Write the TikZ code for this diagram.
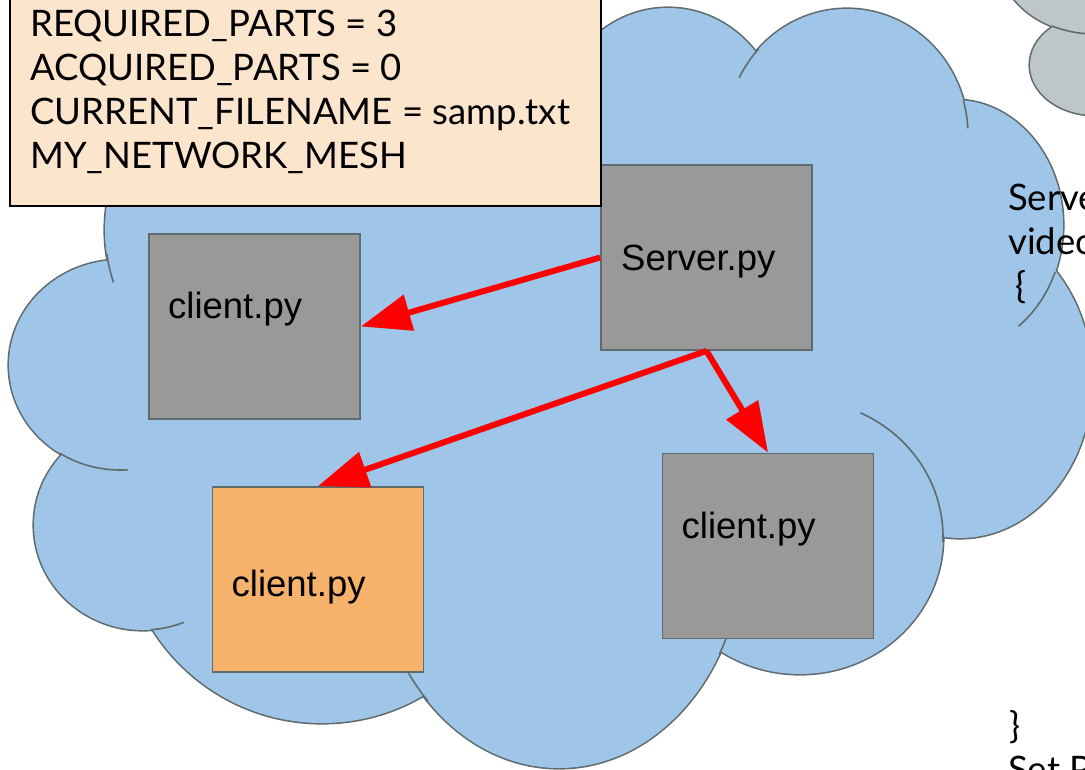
\documentclass[tikz,border=0pt]{standalone}
\usepackage{fontspec}
\usetikzlibrary{arrows.meta}
\newfontfamily\latofont{Lato}
\newfontfamily\arialfont{Liberation Sans}

\definecolor{cloudblue}{HTML}{9FC5E8}
\definecolor{cloudgrey}{HTML}{BEC6C9}
\definecolor{edgegrey}{HTML}{5F6B6D}
\definecolor{boxgrey}{HTML}{999999}
\definecolor{boxorange}{HTML}{F6B26B}
\definecolor{notepeach}{HTML}{FCE5CD}

\tikzset{
  lobe/.style={draw=edgegrey,line width=3.2pt},
  cloudhook/.style={draw=edgegrey,line width=1.6pt},
  pybox/.style={draw=edgegrey,line width=1.8pt,minimum width=211pt,minimum height=185pt,inner sep=0pt},
  pylabel/.style={anchor=base west,inner sep=0pt,font=\arialfont\fontsize{36.5}{44}\selectfont},
  notetext/.style={anchor=base west,inner sep=0pt,font=\latofont\fontsize{36.5}{44}\selectfont},
  sendarrow/.style={-{Triangle[length=50pt,width=36pt]},line width=6pt,red}
}

% lobes of the big cloud: x/y/x radius/y radius
\def\cloudlobes{280/230/175/170,120/365/111/105,143/525/109/105,322/523/200/200,
  559/541/185/227,800/537/143/137,960/380/132/158,955/225/108/125,847/135/121/126,668/130/114/122}

\begin{document}
\begin{tikzpicture}[x=1pt,y=-1pt]
\useasboundingbox (0,0) rectangle (1085,769);
\clip (0,0) rectangle (1085,769);

% cloud
\foreach \x/\y/\a/\b in \cloudlobes
  \draw[lobe] (\x,\y) ellipse[x radius=\a pt,y radius=\b pt];
\foreach \x/\y/\a/\b in \cloudlobes
  \fill[cloudblue] (\x,\y) ellipse[x radius=\a pt,y radius=\b pt];
\fill[cloudblue] (560,400) ellipse[x radius=380pt,y radius=240pt];
\foreach \x/\y/\a/\b/\s/\e in {280/230/175/170/-162/-172,120/365/111/105/-86/-123,
  143/525/109/105/-68/-86,559/541/185/227/-135/-150,559/541/185/227/-20/-30,
  800/537/143/137/-2/65,955/225/108/125/-22/-54,847/135/121/126/3/16,847/135/121/126/137/153}
  \draw[cloudhook] (\x,\y) ++(\s:\a pt and \b pt) arc[start angle=\s,end angle=\e,x radius=\a pt,y radius=\b pt];

% grey cloud
\draw[lobe] (1095,-40) ellipse[x radius=95pt,y radius=74pt];
\draw[lobe] (1095,65) ellipse[x radius=65pt,y radius=50pt];
\fill[cloudgrey] (1095,-40) ellipse[x radius=95pt,y radius=74pt];
\fill[cloudgrey] (1095,65) ellipse[x radius=65pt,y radius=50pt];
\draw[cloudhook] (1095,-40) ++(-80:95pt and 74pt) arc[start angle=-80,end angle=-117,x radius=95pt,y radius=74pt];

\node[pybox,fill=boxgrey] (server) at (706.5,257.5) {};
\node[pybox,fill=boxgrey] (clienta) at (254.5,326.5) {};
\node[pybox,fill=boxorange] (clientb) at (318,579.5) {};
\node[pybox,fill=boxgrey] (clientc) at (768,546) {};

\node[draw=black,line width=1.8pt,fill=notepeach,minimum width=591pt,minimum height=226pt] (params) at (305.5,93) {};

\draw[sendarrow] (server.west) -- (clienta.east);
\draw[sendarrow] (server.south) -- (clientb.north);
\draw[sendarrow] (server.south) -- (clientc.north);

\node[pylabel] (serverlbl) at (621,270.7) {Server.py};
\node[pylabel] (clientalbl) at (168,318.5) {client.py};
\node[pylabel] (clientblbl) at (231.5,596) {client.py};
\node[pylabel] (clientclbl) at (681.5,538) {client.py};

\node[notetext] (req) at (30,36.7) {REQUIRED\_PARTS = 3};
\node[notetext] (acq) at (30,80.5) {ACQUIRED\_PARTS = 0};
\node[notetext] (fname) at (30,124.3) {CURRENT\_FILENAME = samp.txt};
\node[notetext] (mesh) at (30,168.1) {MY\_NETWORK\_MESH};

\node[notetext] (srvtxt) at (1008,210.7) {Serve};
\node[notetext] (vidtxt) at (1008,254.7) {video};
\node[notetext] (bropen) at (1015,298.7) {\{};
\node[notetext] (brclose) at (1009,738.7) {\}};
\node[notetext] (setp) at (1008,782.7) {Set P};

\end{tikzpicture}
\end{document}
